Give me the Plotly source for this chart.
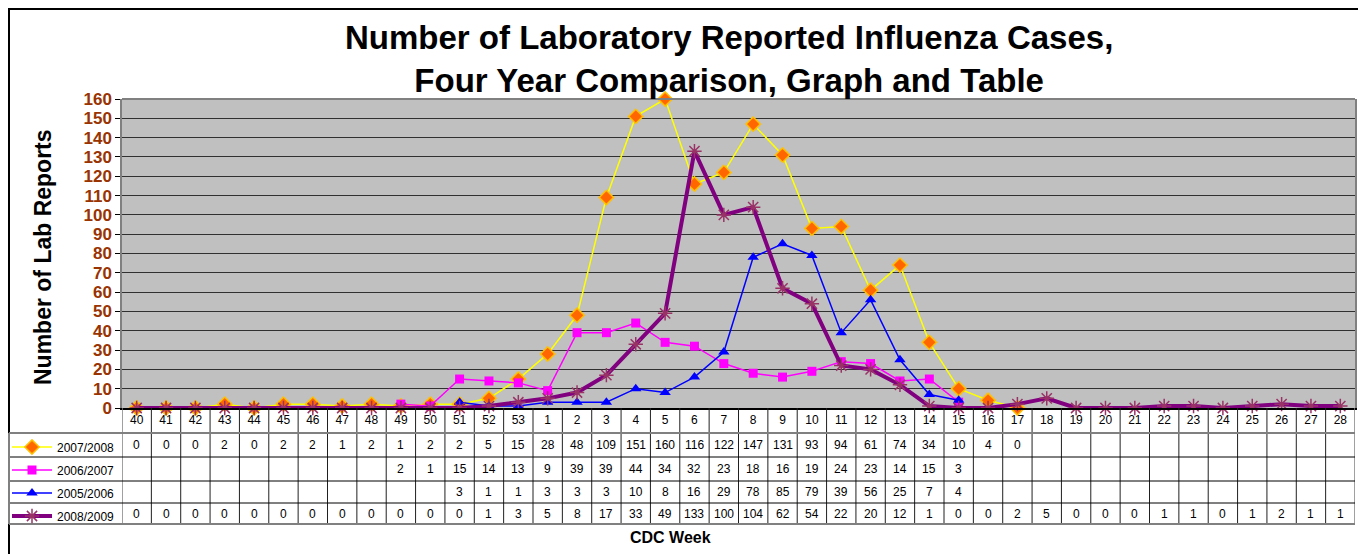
import plotly.graph_objects as go

# The page body has an 8px margin, so the figure is sized to fit the
# remaining viewport and reference pixel coordinates are shifted by it.
OFF = 8
W, H = 1366 - OFF, 554 - OFF

weeks = ["40", "41", "42", "43", "44", "45", "46", "47", "48", "49", "50", "51", "52", "53",
         "1", "2", "3", "4", "5", "6", "7", "8", "9", "10", "11", "12", "13", "14",
         "15", "16", "17", "18", "19", "20", "21", "22", "23", "24", "25", "26", "27", "28"]

N = None
s2007_2008 = [0, 0, 0, 2, 0, 2, 2, 1, 2, 1, 2, 2, 5, 15,
              28, 48, 109, 151, 160, 116, 122, 147, 131, 93, 94, 61, 74, 34,
              10, 4, 0, N, N, N, N, N, N, N, N, N, N, N]
s2006_2007 = [N, N, N, N, N, N, N, N, N, 2, 1, 15, 14, 13,
              9, 39, 39, 44, 34, 32, 23, 18, 16, 19, 24, 23, 14, 15,
              3, N, N, N, N, N, N, N, N, N, N, N, N, N]
s2005_2006 = [N, N, N, N, N, N, N, N, N, N, N, 3, 1, 1,
              3, 3, 3, 10, 8, 16, 29, 78, 85, 79, 39, 56, 25, 7,
              4, N, N, N, N, N, N, N, N, N, N, N, N, N]
s2008_2009 = [0, 0, 0, 0, 0, 0, 0, 0, 0, 0, 0, 0, 1, 3,
              5, 8, 17, 33, 49, 133, 100, 104, 62, 54, 22, 20, 12, 1,
              0, 0, 2, 5, 0, 0, 0, 1, 1, 0, 1, 2, 1, 1]

series_names = ["2007/2008", "2006/2007", "2005/2006", "2008/2009"]
series_values = [s2007_2008, s2006_2007, s2005_2006, s2008_2009]

y_ticks = list(range(0, 161, 10))


def px_x(px):
    return (px - OFF) / W


def px_y(py):
    return 1 - (py - OFF) / H


xs = list(range(len(weeks)))

styles = [
    dict(line=dict(color="#FFFF00", width=1.5),
         marker=dict(symbol="diamond", size=11, color="#FF6600",
                     line=dict(color="#FFC000", width=1.5))),
    dict(line=dict(color="#FF00FF", width=1.5),
         marker=dict(symbol="square", size=9, color="#FF00FF",
                     line=dict(color="#FF00FF", width=0))),
    dict(line=dict(color="#0000FF", width=1.5),
         marker=dict(symbol="triangle-up", size=10, color="#0000FF",
                     line=dict(color="#0000FF", width=0))),
    dict(line=dict(color="#800080", width=4),
         marker=dict(symbol="asterisk-open", size=12, color="#993366",
                     line=dict(color="#993366", width=1.5))),
]

fig = go.Figure()
for name, vals, st in zip(series_names, series_values, styles):
    fig.add_trace(go.Scatter(
        x=xs, y=vals, name=name, mode="lines+markers",
        line=st["line"], marker=st["marker"], cliponaxis=False,
        legendgroup=name, connectgaps=False,
    ))

x_dom = [px_x(122), px_x(1355)]
y_dom = [px_y(408), px_y(99)]

table_font = dict(family="Liberation Sans Narrow, Arial Narrow, Liberation Sans, Arial", size=12, color="black")

fig.update_layout(
    width=W, height=H,
    margin=dict(l=0, r=0, t=0, b=0, autoexpand=False),
    paper_bgcolor="white",
    plot_bgcolor="#C0C0C0",
    showlegend=True,
    legend=dict(x=px_x(7), y=px_y(432.5), xanchor="left", yanchor="top",
                bgcolor="rgba(0,0,0,0)", borderwidth=0,
                font=dict(family="Liberation Sans, Arial", size=12, color="black"),
                tracegroupgap=4, itemwidth=40, traceorder="grouped"),
    xaxis=dict(domain=x_dom, range=[-0.5, len(weeks) - 0.5],
               tickmode="array", tickvals=xs, ticktext=weeks,
               showgrid=False, zeroline=False,
               showline=True, linecolor="black", linewidth=1.5,
               ticks="", tickfont=table_font, automargin=False),
    yaxis=dict(domain=y_dom, range=[0, 160],
               tickmode="array", tickvals=y_ticks,
               showgrid=True, gridcolor="#303030", gridwidth=1.2,
               zeroline=False, showline=True, linecolor="#808080",
               linewidth=1.5, mirror=True,
               ticks="outside", ticklen=5, tickcolor="black", tickwidth=1,
               tickfont=dict(family="Liberation Sans, Arial", size=17,
                             color="#993300", weight="bold"),
               automargin=False),
)

shapes = []
# top border of plot area
shapes.append(dict(type="line", xref="x domain", yref="y domain",
                   x0=0, x1=1, y0=1, y1=1, line=dict(color="#808080", width=2)))
# outer frame (left/top edges sit at the very edge of the figure)
shapes.append(dict(type="rect", xref="paper", yref="paper",
                   x0=px_x(OFF + 1), x1=px_x(1363), y0=px_y(620), y1=px_y(OFF + 1),
                   line=dict(color="black", width=2), fillcolor="rgba(0,0,0,0)"))
# table vertical lines (week columns)
for i in range(len(weeks) + 1):
    inner = 0 < i < len(weeks)
    shapes.append(dict(type="line", xref="x", yref="paper",
                       x0=i - 0.5, x1=i - 0.5, y0=px_y(524), y1=px_y(408),
                       line=dict(color="#202020" if inner else "#808080",
                                 width=1 if inner else 1.5)))
# table horizontal lines
row_lines = [433, 457, 481, 503, 524]
for k, ry in enumerate(row_lines):
    outer = k in (0, len(row_lines) - 1)
    shapes.append(dict(type="line", xref="paper", yref="paper",
                       x0=px_x(OFF + 1), x1=x_dom[1], y0=px_y(ry), y1=px_y(ry),
                       line=dict(color="#808080" if outer else "black",
                                 width=2 if outer else 1)))
# legend column left border
shapes.append(dict(type="line", xref="paper", yref="paper",
                   x0=px_x(OFF + 1), x1=px_x(OFF + 1), y0=px_y(524), y1=px_y(433),
                   line=dict(color="#808080", width=2)))
fig.update_layout(shapes=shapes)

annotations = []
row_centers = [445.3, 469, 492, 513.7]
for vals, rc in zip(series_values, row_centers):
    for i, v in enumerate(vals):
        if v is None:
            continue
        annotations.append(dict(x=i, y=px_y(rc), xref="x", yref="paper",
                                text=str(v), showarrow=False,
                                xanchor="center", yanchor="middle", font=table_font))

annotations.append(dict(
    x=px_x(729), y=px_y(58.5), xref="paper", yref="paper",
    text="Number of Laboratory Reported Influenza Cases,<br>Four Year Comparison, Graph and Table",
    showarrow=False, xanchor="center", yanchor="middle", align="center",
    font=dict(family="Liberation Sans, Arial", size=33, color="black", weight="bold")))
annotations.append(dict(
    x=px_x(43), y=px_y(257), xref="paper", yref="paper",
    text="Number of Lab Reports", textangle=-90, showarrow=False,
    xanchor="center", yanchor="middle",
    font=dict(family="Liberation Sans, Arial", size=23, color="black", weight="bold")))
annotations.append(dict(
    x=px_x(670), y=px_y(537), xref="paper", yref="paper",
    text="CDC Week", showarrow=False, xanchor="center", yanchor="middle",
    font=dict(family="Liberation Sans, Arial", size=16, color="black", weight="bold")))
fig.update_layout(annotations=annotations)

fig.write_html("out.html")
